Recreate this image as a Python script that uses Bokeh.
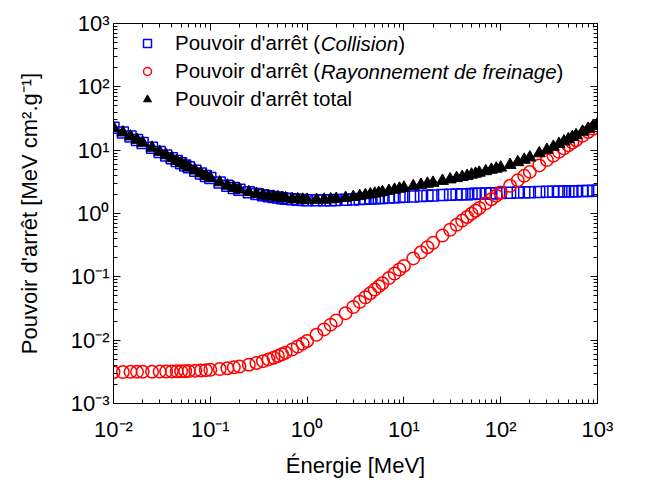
from bokeh.plotting import figure
from bokeh.models import (LogAxis, FixedTicker, CustomJSTickFormatter, Legend,
                          LegendItem, Label, Range1d)
from bokeh.embed import file_html
from bokeh.resources import INLINE

# ---------------- data ----------------
energy = [0.01, 0.0125, 0.015, 0.0175, 0.02, 0.025, 0.03, 0.035, 0.04, 0.045,
          0.05, 0.055, 0.06, 0.07, 0.08, 0.09, 0.1, 0.125, 0.15, 0.175,
          0.2, 0.25, 0.3, 0.35, 0.4, 0.45, 0.5, 0.55, 0.6, 0.7,
          0.8, 0.9, 1.0, 1.25, 1.5, 1.75, 2.0, 2.5, 3.0, 3.5,
          4.0, 4.5, 5.0, 5.5, 6.0, 7.0, 8.0, 9.0, 10.0, 12.5,
          15.0, 17.5, 20.0, 25.0, 30.0, 35.0, 40.0, 45.0, 50.0, 55.0,
          60.0, 70.0, 80.0, 90.0, 100.0, 125.0, 150.0, 175.0, 200.0, 250.0,
          300.0, 350.0, 400.0, 450.0, 500.0, 550.0, 600.0, 700.0, 800.0, 900.0,
          1000.0]

collision = [22.56, 18.98, 16.42, 14.52, 13.03, 10.88, 9.378, 8.27, 7.421, 6.747,
             6.198, 5.744, 5.361, 4.751, 4.286, 3.921, 3.624, 3.087, 2.735, 2.538,
             2.374, 2.160, 2.033, 1.938, 1.873, 1.828, 1.781, 1.746, 1.717, 1.678,
             1.651, 1.635, 1.624, 1.613, 1.614, 1.620, 1.629, 1.649, 1.670, 1.689,
             1.706, 1.722, 1.736, 1.749, 1.761, 1.782, 1.801, 1.817, 1.832, 1.862,
             1.887, 1.907, 1.925, 1.954, 1.976, 1.993, 2.009, 2.022, 2.034, 2.044,
             2.053, 2.069, 2.082, 2.094, 2.104, 2.125, 2.143, 2.156, 2.168, 2.187,
             2.202, 2.214, 2.224, 2.233, 2.241, 2.248, 2.254, 2.265, 2.274, 2.283,
             2.289]

radiative = [3.12e-3, 3.14e-3, 3.16e-3, 3.16e-3, 3.17e-3, 3.18e-3, 3.19e-3, 3.20e-3, 3.21e-3, 3.22e-3,
             3.23e-3, 3.24e-3, 3.26e-3, 3.29e-3, 3.32e-3, 3.36e-3, 3.40e-3, 3.50e-3, 3.61e-3, 3.72e-3,
             3.84e-3, 4.10e-3, 4.37e-3, 4.66e-3, 4.97e-3, 5.29e-3, 5.63e-3, 5.99e-3, 6.35e-3, 7.12e-3,
             7.94e-3, 8.81e-3, 9.72e-3, 1.215e-2, 1.478e-2, 1.757e-2, 2.05e-2, 2.67e-2, 3.34e-2, 4.04e-2,
             4.76e-2, 5.52e-2, 6.29e-2, 7.08e-2, 7.89e-2, 9.55e-2, 0.1128, 0.1306, 0.1487, 0.1955,
             0.2439, 0.2935, 0.344, 0.448, 0.554, 0.662, 0.772, 0.882, 0.994, 1.107,
             1.221, 1.450, 1.681, 1.914, 2.149, 2.739, 3.335, 3.934, 4.538, 5.751,
             6.973, 8.20, 9.43, 10.66, 11.90, 13.14, 14.38, 16.87, 19.37, 21.86,
             24.37]

total = [22.6, 19.0, 16.45, 14.55, 13.05, 10.9, 9.40, 8.29, 7.44, 6.77,
         6.22, 5.76, 5.38, 4.77, 4.30, 3.94, 3.64, 3.10, 2.75, 2.55,
         2.39, 2.17, 2.04, 1.95, 1.88, 1.84, 1.79, 1.76, 1.73, 1.69,
         1.67, 1.65, 1.64, 1.64, 1.65, 1.67, 1.70, 1.76, 1.82, 1.88,
         1.94, 2.00, 2.06, 2.12, 2.17, 2.27, 2.37, 2.46, 2.55, 2.70,
         2.83, 2.95, 3.05, 3.27, 3.45, 3.62, 3.77, 3.92, 4.10, 4.25,
         4.40, 4.65, 4.90, 5.10, 5.30, 5.85, 6.45, 7.05, 7.65, 8.90,
         10.1, 11.3, 12.5, 13.7, 14.9, 16.1, 17.2, 19.5, 21.7, 23.9,
         26.0]

x_ticks = [1e-2, 1e-1, 1e0, 1e1, 1e2, 1e3]
x_tick_labels = ["10\u207b\u00b2", "10\u207b\u00b9", "10\u2070", "10\u00b9", "10\u00b2", "10\u00b3"]
y_ticks = [1e-3, 1e-2, 1e-1, 1e0, 1e1, 1e2, 1e3]
y_tick_labels = ["10\u207b\u00b3", "10\u207b\u00b2", "10\u207b\u00b9", "10\u2070", "10\u00b9", "10\u00b2", "10\u00b3"]

legend_rows = [
    ["Pouvoir d'arr\u00eat (", "Collision", ")"],
    ["Pouvoir d'arr\u00eat (", "Rayonnement de freinage", ")"],
    ["Pouvoir d'arr\u00eat total", "", ""],
]

FONT = "Liberation Sans"

# ---------------- figure ----------------
p = figure(width=640, height=481, x_axis_type="log", y_axis_type="log",
           x_range=Range1d(1e-2, 1e3), y_range=Range1d(1e-3, 1e3),
           output_backend="svg", toolbar_location=None,
           min_border_left=113, min_border_right=43, min_border_top=23,
           min_border_bottom=78)
p.xgrid.visible = False
p.ygrid.visible = False
p.outline_line_color = "black"
p.outline_line_width = 1
p.background_fill_color = "white"
p.border_fill_color = "white"

def minor_list(major):
    out = []
    for m in major[:-1]:
        for k in range(2, 10):
            out.append(m * k)
    return out

fmt_code = """
let best = 0;
for (let i = 0; i < tvals.length; i++) {
  if (Math.abs(Math.log10(tvals[i]) - Math.log10(tick)) < 1e-6) { best = i; }
}
return tlabels[best];
"""

def style_axis(ax, tks, labels, show_labels=True):
    ax.ticker = FixedTicker(ticks=tks, minor_ticks=minor_list(tks))
    if show_labels:
        ax.formatter = CustomJSTickFormatter(args=dict(tvals=tks, tlabels=labels), code=fmt_code)
    else:
        ax.formatter = CustomJSTickFormatter(code="return '';")
    ax.major_tick_in = 7
    ax.major_tick_out = 0
    ax.minor_tick_in = 4
    ax.minor_tick_out = 0
    ax.axis_line_color = "black"
    ax.major_tick_line_color = "black"
    ax.minor_tick_line_color = "black"
    ax.major_label_text_font = FONT
    ax.major_label_text_font_size = "22px"
    ax.major_label_text_color = "black"
    ax.axis_label_text_font = FONT
    ax.axis_label_text_font_style = "normal"
    ax.axis_label_text_font_size = "22px"
    ax.axis_label_text_color = "black"

xa = p.xaxis[0]
ya = p.yaxis[0]
style_axis(xa, x_ticks, x_tick_labels)
style_axis(ya, y_ticks, y_tick_labels)
xa.axis_label = "\u00c9nergie [MeV]"
ya.axis_label = "Pouvoir d'arr\u00eat [MeV cm\u00b2.g\u207b\u00b9]"
xa.major_label_standoff = 13
ya.major_label_standoff = 4
xa.axis_label_standoff = 8
ya.axis_label_standoff = 26

top = LogAxis()
right = LogAxis()
style_axis(top, x_ticks, x_tick_labels, show_labels=False)
style_axis(right, y_ticks, y_tick_labels, show_labels=False)
top.major_label_standoff = 0
right.major_label_standoff = 0
p.add_layout(top, "above")
p.add_layout(right, "right")

r_col = p.scatter(energy, collision, marker="square", size=11,
                  fill_color=None, line_color="#0000ff", line_width=1.5)
r_rad = p.scatter(energy, radiative, marker="circle", size=12.5,
                  fill_color=None, line_color="#ff0000", line_width=1.5)
r_tot = p.scatter(energy, total, marker="triangle", size=12,
                  fill_color="black", line_color="black", line_width=1)

LEG_FS = 20.5
legend = Legend(items=[LegendItem(label=row[0], renderers=[r])
                       for row, r in zip(legend_rows, (r_col, r_rad, r_tot))],
                location=(24, 290), orientation="vertical",
                glyph_width=20, glyph_height=28, label_height=28,
                label_standoff=18, spacing=0, padding=0, margin=0,
                label_text_font=FONT, label_text_font_size=f"{LEG_FS}px",
                label_text_color="black", label_text_baseline="middle",
                background_fill_alpha=0, border_line_color=None)
p.add_layout(legend)

# Arial/Liberation Sans advance widths (per 1000 em)
W = {"P": 667, "o": 556, "u": 556, "v": 500, "i": 222, "r": 333, " ": 278, "d": 556,
     "'": 191, "a": 556, "\u00ea": 556, "t": 278, "(": 333, ")": 333, "C": 722, "l": 222,
     "s": 500, "n": 556, "R": 722, "y": 500, "e": 556, "m": 833, "f": 278, "g": 556}

def text_w(s, fs):
    return sum(W.get(c, 556) for c in s) * fs / 1000.0

x0 = 24 + 20 + 18
row_y = [360, 332]
for (a, b, c), yy in zip(legend_rows[:2], row_y):
    xx = x0 + text_w(a, LEG_FS)
    for txt, style in ((b, "italic"), (c, "normal")):
        p.add_layout(Label(x=xx, y=yy, x_units="screen", y_units="screen", text=txt,
                           text_font=FONT, text_font_size=f"{LEG_FS}px",
                           text_font_style=style, text_baseline="middle",
                           text_align="left", text_color="black"))
        xx += text_w(txt, LEG_FS)

open("out.html", "w").write(file_html(p, INLINE))
